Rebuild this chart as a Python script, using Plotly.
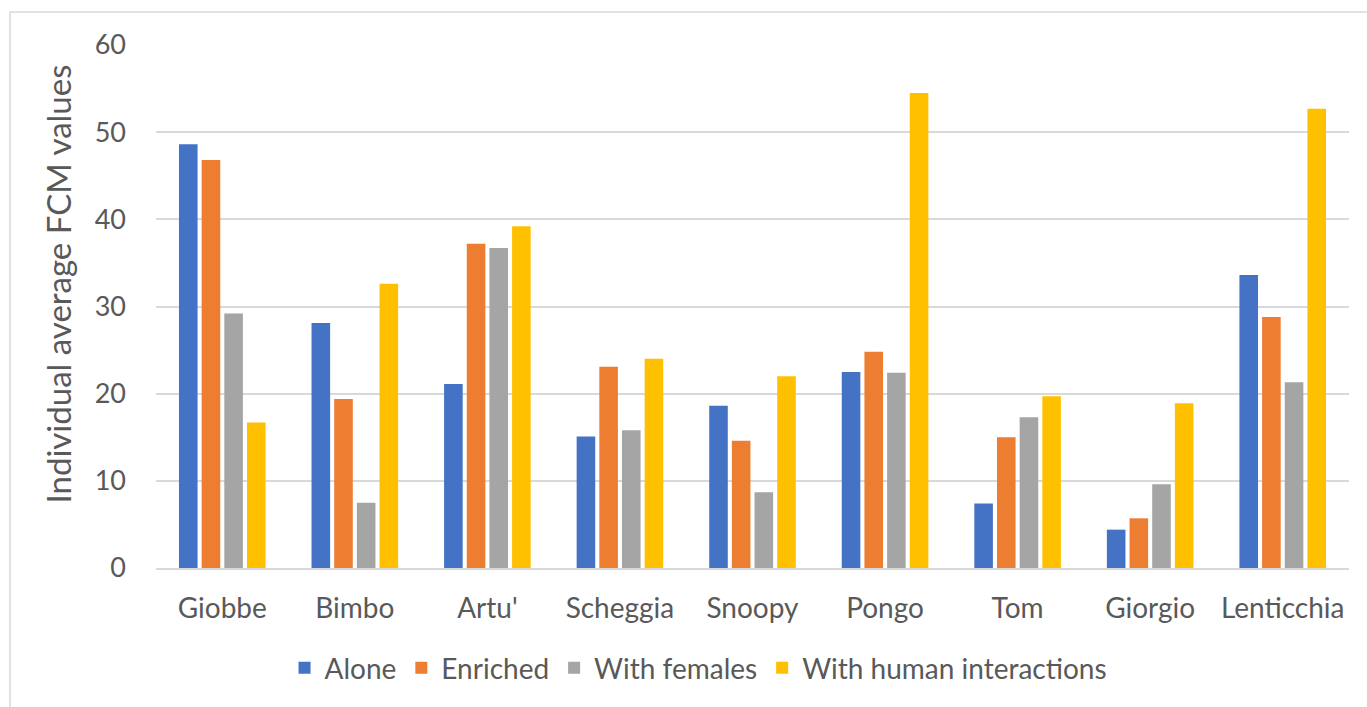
import plotly.graph_objects as go

# Individuals and their average FCM values per housing condition
animals = ["Giobbe", "Bimbo", "Artu'", "Scheggia", "Snoopy", "Pongo", "Tom", "Giorgio", "Lenticchia"]
alone = [48.6, 28.1, 21.1, 15.1, 18.6, 22.5, 7.4, 4.4, 33.6]
enriched = [46.8, 19.4, 37.2, 23.1, 14.6, 24.8, 15.0, 5.7, 28.8]
with_females = [29.2, 7.5, 36.7, 15.8, 8.7, 22.4, 17.3, 9.6, 21.3]
with_humans = [16.7, 32.6, 39.2, 24.0, 22.0, 54.5, 19.7, 18.9, 52.7]

series_names = ["Alone", "Enriched", "With females", "With human interactions"]
series_values = [alone, enriched, with_females, with_humans]
colors = ["#4472C4", "#ED7D31", "#A5A5A5", "#FFC000"]

y_ticks = [0, 10, 20, 30, 40, 50, 60]

FONT = "Lato"
TEXT = "#595959"
GRID = "#D9D9D9"

fig = go.Figure()
for name, vals, col in zip(series_names, series_values, colors):
    fig.add_trace(go.Bar(
        x=animals, y=vals, name=name,
        marker=dict(color=col, line=dict(width=0)),
    ))

W, H = 1367, 707
L, R, T, B = 156, 18, 45, 139
PW, PH = W - L - R, H - T - B

fig.update_layout(
    width=W, height=H,
    margin=dict(l=L, r=R, t=T, b=B, autoexpand=False),
    paper_bgcolor="white", plot_bgcolor="white",
    barmode="group", bargap=0.316, bargroupgap=0.18,
    font=dict(family=FONT, color=TEXT, size=28),
    showlegend=True,
    legend=dict(
        orientation="h", xref="container", yref="container",
        x=0.511, xanchor="center", y=1 - 668 / H, yanchor="middle",
        font=dict(family=FONT, size=28, color=TEXT),
        itemwidth=30, traceorder="normal",
    ),
)

fig.update_xaxes(
    showgrid=False, showline=True, linecolor=GRID, linewidth=2,
    ticks="", ticklabelstandoff=14,
    tickfont=dict(family=FONT, size=28, color=TEXT),
)
fig.update_yaxes(
    range=[0, 60], tickvals=y_ticks, ticktext=[str(v) for v in y_ticks],
    showgrid=True, gridcolor=GRID, gridwidth=2,
    zeroline=False, showline=False, ticks="", ticklabelstandoff=29,
    tickfont=dict(family=FONT, size=27, color=TEXT),
)

# axis title placed to the left of the tick labels
fig.add_annotation(
    text="Individual average FCM values", xref="paper", yref="paper",
    x=(57.5 - L) / PW, y=(H - B - 284) / PH,
    xanchor="center", yanchor="middle",
    showarrow=False, textangle=-90,
    font=dict(family=FONT, size=33, color=TEXT),
)

# chart frame
fig.add_shape(
    type="rect", xref="paper", yref="paper",
    x0=(10 - L) / PW, x1=(W + 20 - L) / PW,
    y0=(H - B - 740) / PH, y1=(H - B - 12) / PH,
    line=dict(color=GRID, width=1.5), fillcolor="rgba(0,0,0,0)", layer="below",
)

fig.write_html("out.html")
